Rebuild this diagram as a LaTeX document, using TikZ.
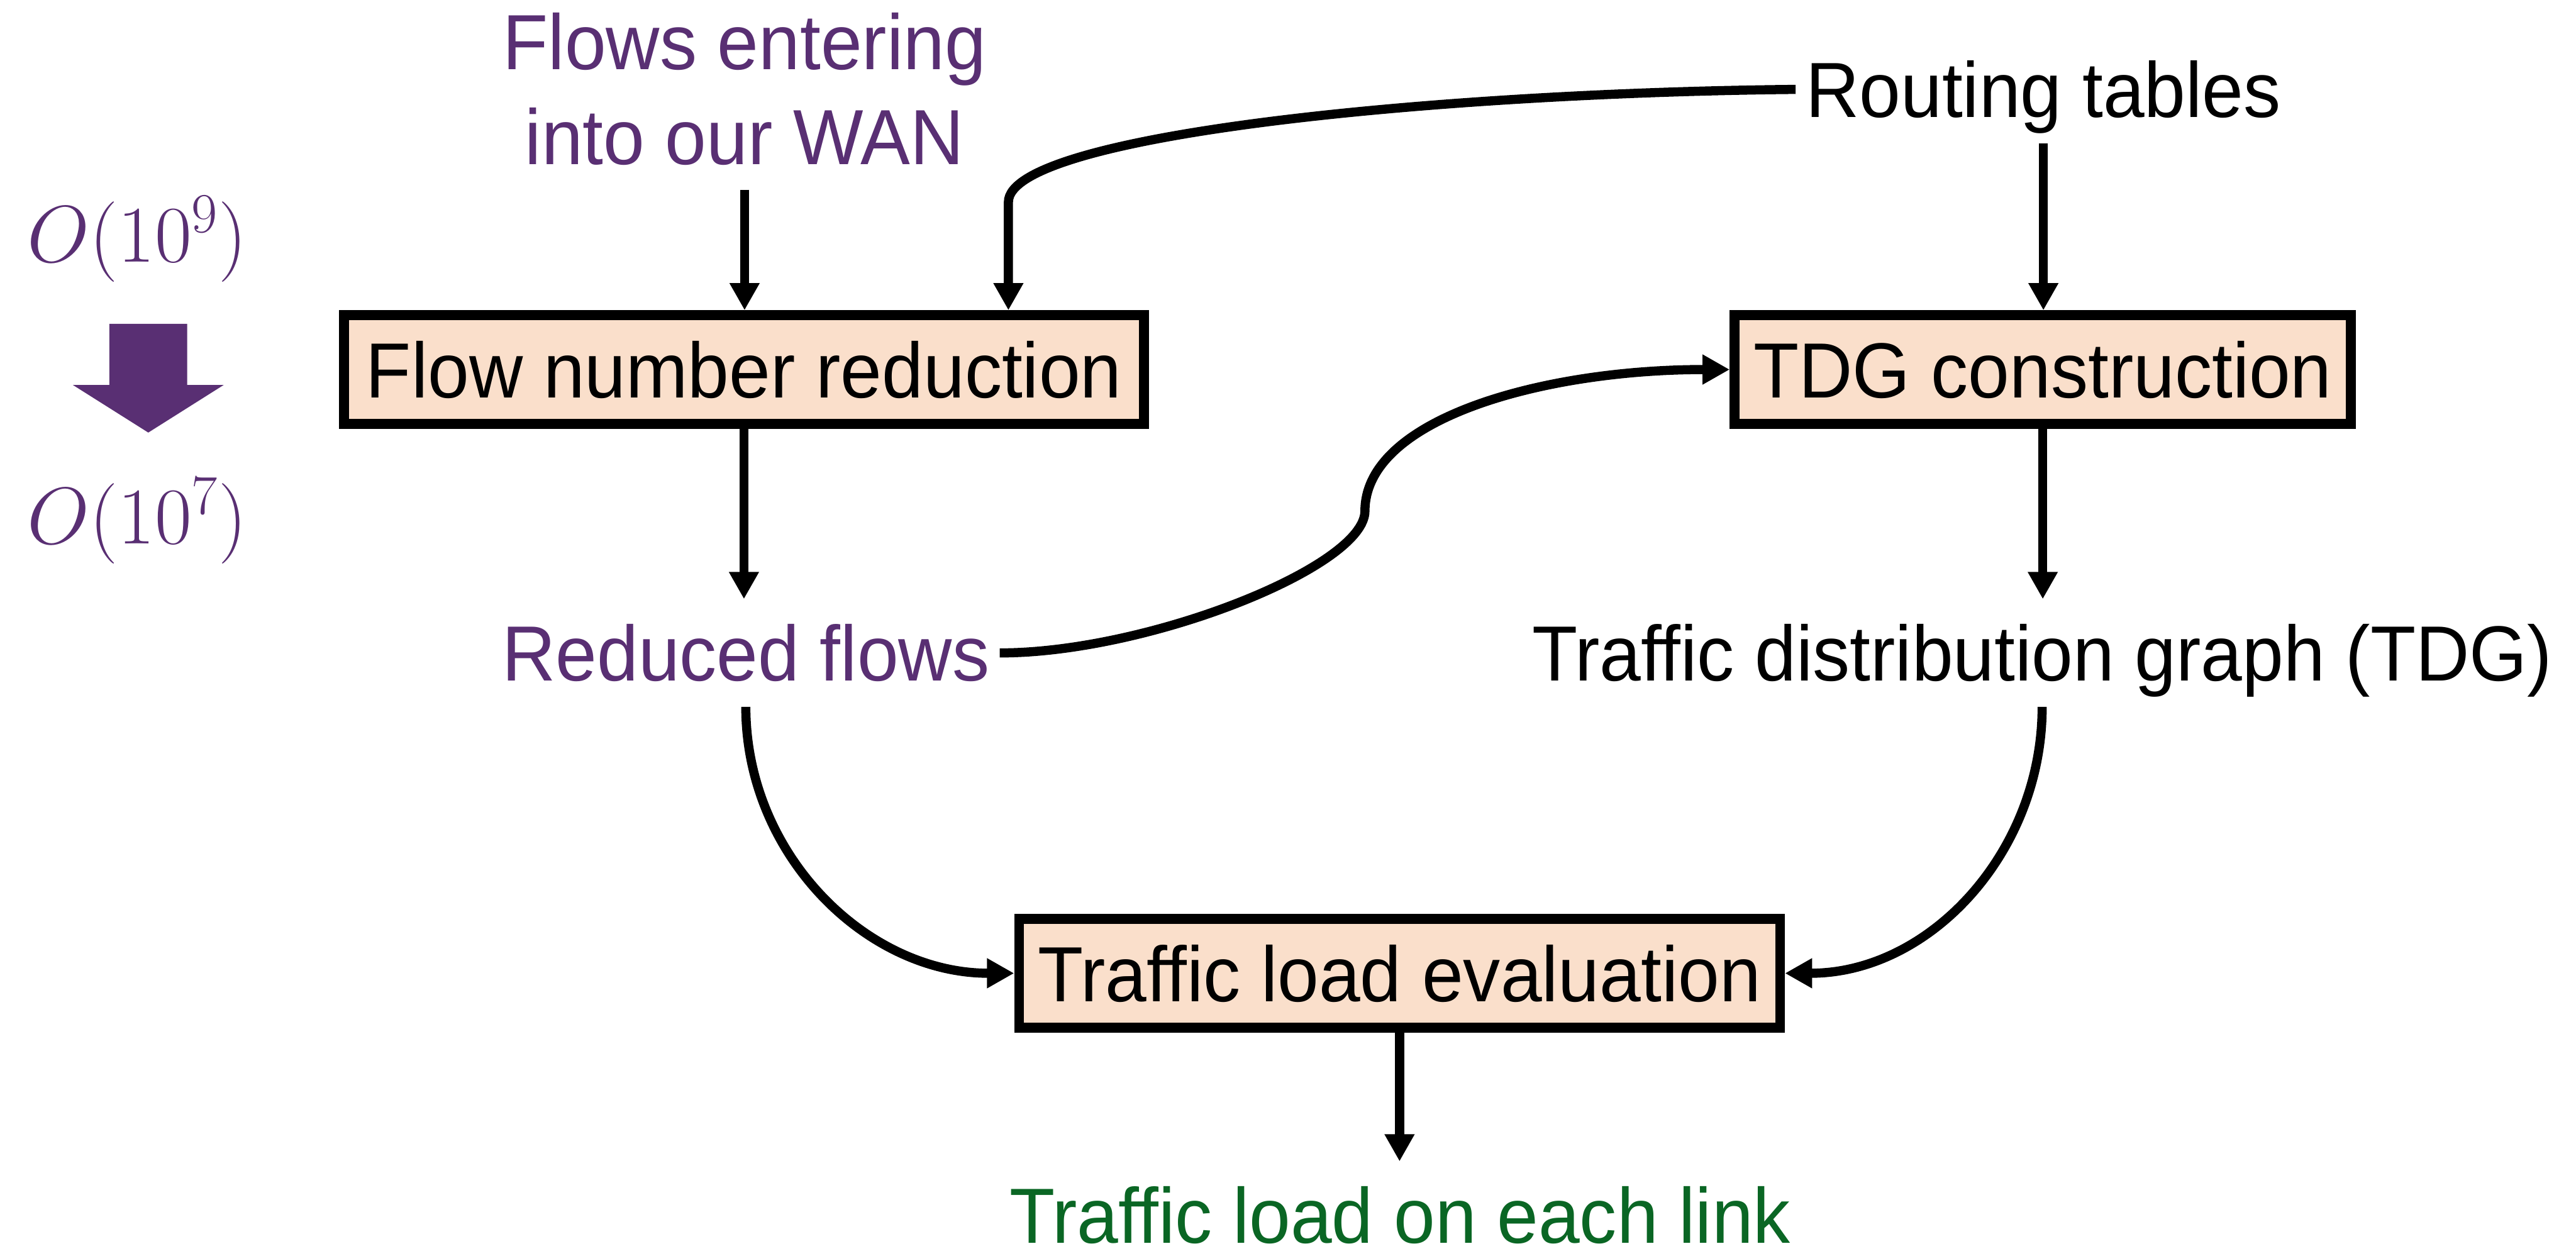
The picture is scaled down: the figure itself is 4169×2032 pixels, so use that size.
\documentclass[tikz,border=0pt]{standalone}
\usepackage{fix-cm}
\usepackage[no-math]{fontspec}
\setmainfont{Liberation Sans}[FakeStretch=0.95]
\usetikzlibrary{arrows.meta}
\definecolor{wanpurple}{RGB}{89,47,115}
\definecolor{stagefill}{RGB}{250,223,203}
\definecolor{linkgreen}{RGB}{10,102,36}
\tikzset{
	stage/.style={shape=rectangle, draw, line width=4.5pt, fill=stagefill, minimum height=1.76cm, inner xsep=3pt, text height=33pt, text depth=7.2pt},
	lbl/.style={inner sep=4.5pt, text height=33pt, text depth=7.2pt},
	flow/.style={line width=4.2pt, -{Triangle[length=12.5pt, width=13pt]}},
	order/.style={text=wanpurple, font=\fontsize{37}{44}\selectfont},
}
\begin{document}
\begin{tikzpicture}[x=0.01cm, y=-0.01cm, font=\fontsize{36}{43.7}\selectfont]
	\useasboundingbox (0,0) rectangle (4169,2032);
	% Paths, nodes and wires:
	\node[inner sep=4.5pt, align=center, text=wanpurple] (flows) at (1205,144) {Flows entering\\into our WAN};
	\node[lbl, anchor=base] (routing) at (3307,190) {Routing tables};
	\node[stage, minimum width=12.94cm] (reduction) at (1204,598) {Flow number reduction};
	\node[stage, minimum width=9.97cm] (tdgbuild) at (3306,598) {TDG construction};
	\node[lbl, anchor=base, text=wanpurple] (reduced) at (1207,1102) {Reduced flows};
	\node[lbl, anchor=base] (tdg) at (3305,1102) {Traffic distribution graph (TDG)};
	\node[stage, minimum width=12.31cm] (evaluation) at (2265,1575) {Traffic load evaluation};
	\node[lbl, anchor=base, text=linkgreen] (linkload) at (2266,2012) {Traffic load on each link};
	\node[order] (before) at (222,387) {$O(10^9)$};
	\node[order] (after) at (222,843) {$O(10^7)$};
	\fill[wanpurple] (177,524) -- (303,524) -- (303,623) -- (362,623) -- (240,700) -- (118,623) -- (177,623) -- cycle;
	\coordinate (rbend) at (1632,327);
	\coordinate (sbend) at (2209,827);
	\draw[flow, shorten <=0.23cm] (flows.south) -- (flows.south |- reduction.north);
	\draw[flow] (routing.south) -- (routing.south |- tdgbuild.north);
	\draw[flow] (routing.west) .. controls +(-598,6) and +(0,-107) .. (rbend) -- (rbend |- reduction.north);
	\draw[flow] (reduction.south) -- (reduction.south |- reduced.north);
	\draw[flow] (tdgbuild.south) -- (tdgbuild.south |- tdg.north);
	\draw[flow] (reduced.east) .. controls +(240,0) and +(0,90) .. (sbend) .. controls +(0,-150) and +(-300,0) .. (tdgbuild.west);
	\draw[flow] (reduced.south) to[out=-90, in=180] (evaluation.west);
	\draw[flow] (tdg.south) to[out=-90, in=0] (evaluation.east);
	\draw[flow] (evaluation.south) -- (evaluation.south |- linkload.north);
\end{tikzpicture}
\end{document}
